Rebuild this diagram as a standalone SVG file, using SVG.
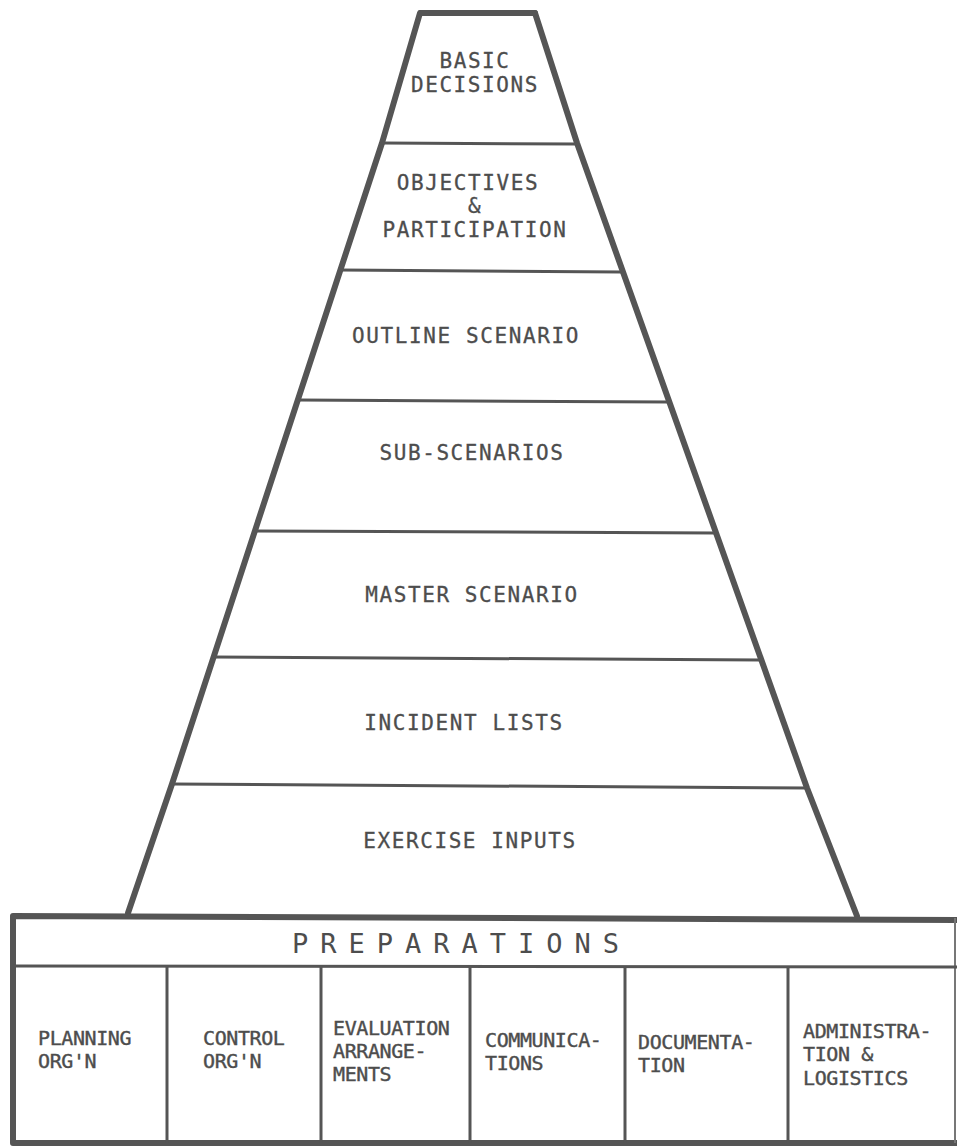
<svg xmlns="http://www.w3.org/2000/svg" width="957" height="1147" viewBox="0 0 957 1147">
<style>
  .bg{fill:#ffffff}
  .thick{fill:none;stroke:#555555;stroke-width:6;stroke-linejoin:round;stroke-linecap:round}
  .thin{fill:none;stroke:#555555;stroke-width:3}
  .t{font-family:"DejaVu Sans Mono","Liberation Mono",monospace;font-size:21px;letter-spacing:1.6px;fill:#4d4d4d;stroke:#4d4d4d;stroke-width:0.3;text-anchor:middle}
  .b{font-family:"DejaVu Sans Mono","Liberation Mono",monospace;font-size:20px;letter-spacing:-0.4px;fill:#4d4d4d;stroke:#4d4d4d;stroke-width:0.4}
  .p{font-family:"DejaVu Sans Mono","Liberation Mono",monospace;font-size:27px;letter-spacing:12px;fill:#4d4d4d}
</style>
<rect class="bg" x="0" y="0" width="957" height="1147"/>
<g id="connectors">
  <polyline class="thick" points="420,13 382,143 172,784 128,913"/>
  <polyline class="thick" points="421,13 535,13"/>
  <polyline class="thick" points="535,13 577,143 807,788 857,916"/>
  <line class="thin" x1="382" y1="143" x2="577" y2="144"/>
  <line class="thin" x1="340" y1="270" x2="622" y2="272"/>
  <line class="thin" x1="298" y1="400" x2="669" y2="402"/>
  <line class="thin" x1="255" y1="531" x2="715" y2="533"/>
  <line class="thin" x1="213" y1="657" x2="761" y2="660"/>
  <line class="thin" x1="172" y1="784" x2="807" y2="788"/>
</g>
<g id="basic-decisions">
  <text class="t" x="475" y="68">BASIC</text>
  <text class="t" x="475" y="92">DECISIONS</text>
</g>
<g id="objectives-participation">
  <text class="t" x="468" y="190">OBJECTIVES</text>
  <text class="t" x="475" y="213">&amp;</text>
  <text class="t" x="475" y="237">PARTICIPATION</text>
</g>
<g id="outline-scenario">
  <text class="t" x="466" y="343">OUTLINE SCENARIO</text>
</g>
<g id="sub-scenarios">
  <text class="t" x="472" y="460">SUB-SCENARIOS</text>
</g>
<g id="master-scenario">
  <text class="t" x="472" y="602">MASTER SCENARIO</text>
</g>
<g id="incident-lists">
  <text class="t" x="464" y="730">INCIDENT LISTS</text>
</g>
<g id="exercise-inputs">
  <text class="t" x="470" y="848">EXERCISE INPUTS</text>
</g>
<g id="preparations">
  <polyline class="thick" points="957,920 13,916 13,1143 957,1143"/>
  <line x1="955" y1="918" x2="955" y2="1143" stroke="#777777" stroke-width="2"/>
  <line class="thin" x1="13" y1="966" x2="957" y2="967"/>
  <text class="p" x="292" y="953">PREPARATIONS</text>
</g>
<g id="planning-orgn">
  <line class="thin" x1="167" y1="966" x2="167" y2="1143"/>
  <text class="b" x="38" y="1045">PLANNING</text>
  <text class="b" x="38" y="1068">ORG'N</text>
</g>
<g id="control-orgn">
  <line class="thin" x1="321" y1="966" x2="321" y2="1143"/>
  <text class="b" x="203" y="1045">CONTROL</text>
  <text class="b" x="203" y="1068">ORG'N</text>
</g>
<g id="evaluation-arrangements">
  <line class="thin" x1="470" y1="966" x2="470" y2="1143"/>
  <text class="b" x="333" y="1035">EVALUATION</text>
  <text class="b" x="333" y="1058">ARRANGE-</text>
  <text class="b" x="333" y="1081">MENTS</text>
</g>
<g id="communications">
  <line class="thin" x1="625" y1="967" x2="625" y2="1143"/>
  <text class="b" x="485" y="1047">COMMUNICA-</text>
  <text class="b" x="485" y="1070">TIONS</text>
</g>
<g id="documentation">
  <line class="thin" x1="788" y1="967" x2="788" y2="1143"/>
  <text class="b" x="638" y="1049">DOCUMENTA-</text>
  <text class="b" x="638" y="1072">TION</text>
</g>
<g id="administration-logistics">
  <text class="b" x="803" y="1038">ADMINISTRA-</text>
  <text class="b" x="803" y="1061">TION &amp;</text>
  <text class="b" x="803" y="1085">LOGISTICS</text>
</g>
</svg>
